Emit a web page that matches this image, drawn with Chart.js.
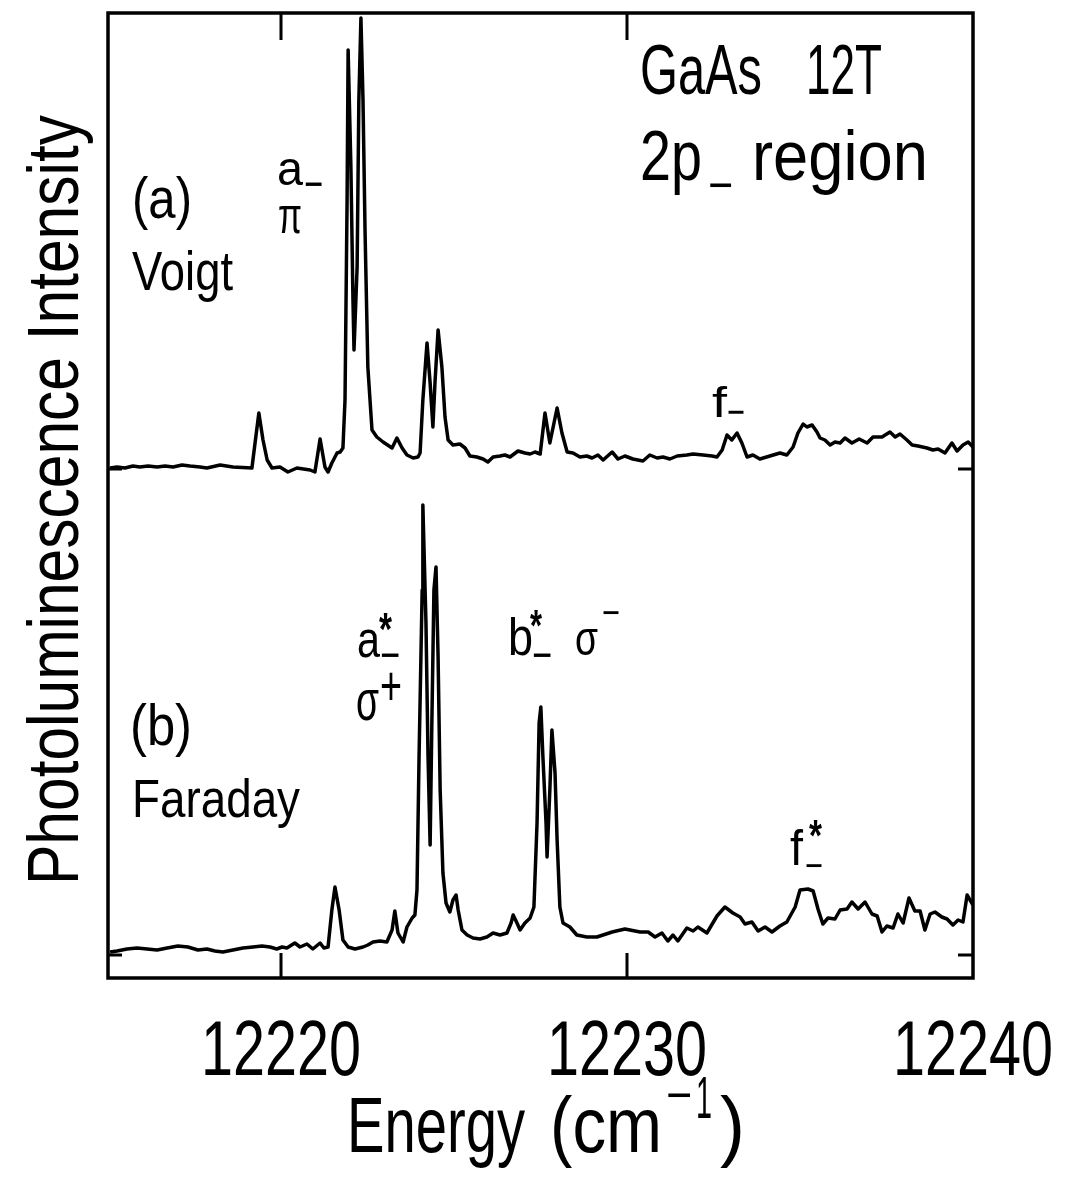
<!DOCTYPE html>
<html>
<head>
<meta charset="utf-8">
<title>GaAs 12T 2p- region</title>
<script src="https://cdn.jsdelivr.net/npm/chart.js@4.4.0/dist/chart.umd.min.js"></script>
<style>
  html,body{margin:0;padding:0;background:#fff;}
  canvas{display:block;}
</style>
</head>
<body>
<canvas id="plChart" width="1071" height="1178"></canvas>
<script>
/* DATA (energy in cm^-1, intensity in arbitrary units) */
const voigtEnergy = [12215.06,12215.26,12215.49,12215.72,12215.92,12216.16,12216.42,12216.65,12216.88,12217.14,
  12217.37,12217.66,12217.86,12218.24,12218.61,12219.16,12219.25,12219.36,12219.48,12219.60,
  12219.74,12219.97,12220.20,12220.46,12220.84,12220.98,12221.13,12221.27,12221.36,12221.47,
  12221.62,12221.71,12221.79,12221.85,12221.91,12221.94,12222.02,12222.08,12222.11,12222.20,
  12222.25,12222.31,12222.37,12222.43,12222.51,12222.63,12222.77,12222.95,12223.21,12223.35,
  12223.50,12223.64,12223.82,12223.96,12224.02,12224.10,12224.22,12224.31,12224.39,12224.45,
  12224.54,12224.65,12224.74,12224.83,12224.97,12225.17,12225.32,12225.46,12225.66,12225.84,
  12225.98,12226.13,12226.33,12226.47,12226.62,12226.85,12227.05,12227.20,12227.34,12227.49,
  12227.63,12227.77,12227.98,12228.12,12228.27,12228.44,12228.64,12228.84,12228.99,12229.16,
  12229.31,12229.57,12229.74,12229.94,12230.17,12230.46,12230.66,12230.87,12231.04,12231.24,
  12231.45,12231.73,12231.91,12232.20,12232.46,12232.60,12232.75,12232.89,12233.03,12233.18,
  12233.32,12233.47,12233.64,12233.84,12234.13,12234.42,12234.62,12234.80,12234.94,12235.09,
  12235.20,12235.35,12235.49,12235.58,12235.72,12235.87,12236.01,12236.16,12236.30,12236.50,
  12236.71,12236.94,12237.11,12237.37,12237.60,12237.75,12237.89,12238.09,12238.24,12238.41,
  12238.67,12238.84,12238.99,12239.19,12239.39,12239.54,12239.71,12239.86,12240.00];
const voigtIntensity = [1,2,1,3,2,3,2,3,2,4,
  3,2,1,4,2,1,26,56,29,9,
  1,2,-3,1,-1,-3,30,2,-3,6,
  16,17,21,69,269,419,302,169,119,202,
  369,451,369,236,102,39,32,27,21,31,
  21,14,11,12,16,69,126,86,42,86,
  139,102,52,29,24,25,21,13,12,10,
  7,12,13,14,12,18,16,15,17,15,
  56,26,61,36,17,16,12,13,11,14,
  9,17,10,13,10,8,14,11,12,10,
  13,14,15,14,13,12,19,34,29,36,
  26,12,14,10,13,16,14,22,36,45,
  42,44,37,31,29,24,27,26,31,26,
  30,26,32,32,37,32,35,29,24,23,
  21,19,20,16,26,18,24,27,22];

const faradayEnergy = [12215.06,12215.26,12215.55,12215.84,12216.13,12216.42,12216.71,12217.02,12217.31,12217.60,
  12217.86,12218.09,12218.32,12218.61,12218.90,12219.19,12219.45,12219.68,12219.88,12220.03,
  12220.17,12220.40,12220.55,12220.75,12220.92,12221.13,12221.24,12221.36,12221.47,12221.56,
  12221.68,12221.79,12221.94,12222.14,12222.37,12222.51,12222.66,12222.86,12223.06,12223.21,
  12223.29,12223.38,12223.53,12223.64,12223.79,12223.87,12223.93,12223.99,12224.08,12224.10,
  12224.19,12224.25,12224.31,12224.36,12224.42,12224.48,12224.54,12224.60,12224.68,12224.77,
  12224.88,12224.97,12225.06,12225.12,12225.23,12225.38,12225.55,12225.75,12225.95,12226.13,
  12226.33,12226.53,12226.65,12226.71,12226.82,12226.91,12227.05,12227.20,12227.31,12227.40,
  12227.46,12227.51,12227.57,12227.66,12227.69,12227.77,12227.83,12227.92,12227.98,12228.06,
  12228.15,12228.35,12228.55,12228.84,12229.13,12229.57,12229.94,12230.38,12230.61,12230.81,
  12231.01,12231.18,12231.33,12231.47,12231.73,12231.91,12232.05,12232.31,12232.60,12232.83,
  12233.06,12233.27,12233.41,12233.61,12233.79,12233.99,12234.19,12234.42,12234.62,12234.86,
  12235.00,12235.23,12235.38,12235.52,12235.66,12235.81,12236.01,12236.16,12236.36,12236.50,
  12236.68,12236.88,12237.08,12237.23,12237.37,12237.51,12237.69,12237.83,12237.98,12238.15,
  12238.32,12238.47,12238.61,12238.76,12238.90,12239.10,12239.25,12239.42,12239.57,12239.71,
  12239.83,12240.00];
const faradayIntensity = [3,4,6,7,6,5,7,9,8,5,
  6,4,3,5,7,8,9,8,6,8,
  7,12,8,11,6,12,7,8,45,68,
  45,15,8,6,8,10,13,14,13,25,
  44,22,13,28,37,40,65,198,365,450,
  332,198,110,232,365,388,298,165,82,52,
  43,55,60,45,25,20,17,16,18,22,
  20,22,32,40,32,25,32,37,48,132,
  232,248,198,132,98,165,225,182,115,48,
  32,28,20,18,18,23,26,23,23,18,
  22,14,20,14,27,24,28,22,39,48,
  42,38,31,33,24,28,23,29,33,48,
  65,66,64,46,31,37,36,45,46,53,
  46,53,41,39,23,29,27,41,32,57,
  44,44,25,41,43,38,36,30,35,33,
  60,50];

const voigtOffset = 486;          // trace (a) is shifted up by this amount
const xTicks = [12220, 12230, 12240];
const yTicks = [0, voigtOffset];   // zero level of each trace
const xMin = 12215, xMax = 12240;
const yMin = -23, yMax = 942;

/* TEXT LAYOUT */
const FONT = "'Liberation Sans', Arial, sans-serif";
const labels = [
  {t:'(a)', x:132, y:218, s:58, w:60},
  {t:'Voigt', x:132, y:290, s:56, w:101},
  {t:'a', x:277, y:185, s:48, w:26},
  {t:'\u2212', x:304, y:187, s:48, w:19, mid:true},
  {t:'\u03c0', x:278, y:233, s:52, w:24},
  {t:'GaAs', x:640, y:94, s:70, w:122},
  {t:'12T', x:806, y:94, s:70, w:76},
  {t:'2p', x:640, y:180, s:70, w:62},
  {t:'\u2212', x:708, y:188, s:50, w:25, mid:true},
  {t:'region', x:752, y:180, s:70, w:176},
  {t:'f', x:712, y:417, s:42, w:15},
  {t:'\u2212', x:727, y:414, s:42, w:18, mid:true},
  {t:'(b)', x:130, y:745, s:58, w:62},
  {t:'Faraday', x:132, y:817, s:54, w:168},
  {t:'a', x:357, y:657, s:52, w:23},
  {t:'*', x:379, y:645, s:46, w:13, bold:true},
  {t:'\u2212', x:380, y:658, s:48, w:20, mid:true},
  {t:'\u03c3', x:356, y:720, s:58, w:23},
  {t:'+', x:380, y:705, s:56, w:22},
  {t:'b', x:508, y:655, s:51, w:25},
  {t:'*', x:530, y:641, s:44, w:12, bold:true},
  {t:'\u2212', x:532, y:658, s:48, w:20, mid:true},
  {t:'\u03c3', x:575, y:655, s:48, w:23},
  {t:'\u2212', x:602, y:615, s:40, w:18, mid:true},
  {t:'f', x:790, y:865, s:50, w:13},
  {t:'*', x:809, y:851, s:44, w:13, bold:true},
  {t:'\u2212', x:805, y:868, s:40, w:18, mid:true},
  {t:'Photoluminescence Intensity', x:78, y:500, s:72, w:770, rot:-Math.PI/2, align:'center'},
  {t:'Energy', x:347, y:1152, s:77, w:178},
  {t:'(cm', x:550, y:1152, s:77, w:112},
  {t:'\u2212', x:666, y:1098, s:50, w:26, mid:true},
  {t:'1', x:696, y:1118, s:60, w:16},
  {t:')', x:720, y:1152, s:77, w:25}
];

function drawText(ctx, it){
  ctx.save();
  ctx.font = (it.bold ? 'bold ' : '') + it.s + 'px ' + FONT;
  ctx.fillStyle = '#000';
  ctx.textBaseline = it.mid ? 'middle' : 'alphabetic';
  ctx.textAlign = it.align || 'left';
  const k = it.w ? it.w / ctx.measureText(it.t).width : 1;
  ctx.translate(it.x, it.y);
  if(it.rot){ ctx.rotate(it.rot); }
  ctx.scale(k, 1);
  ctx.fillText(it.t, 0, 0);
  ctx.restore();
}

/* frame, inward ticks and all text */
const framePlugin = {
  id:'frame',
  afterDraw(chart){
    const {ctx, chartArea:a, scales:{x, y}} = chart;
    ctx.save();
    ctx.strokeStyle = '#000';
    ctx.lineWidth = 3.5;
    ctx.strokeRect(a.left, a.top, a.right - a.left, a.bottom - a.top);
    ctx.lineWidth = 3;
    ctx.beginPath();
    xTicks.forEach(v=>{
      if(v >= xMax) return;
      const px = x.getPixelForValue(v);
      ctx.moveTo(px, a.top); ctx.lineTo(px, a.top + 27);
      ctx.moveTo(px, a.bottom); ctx.lineTo(px, a.bottom - 25);
    });
    yTicks.forEach(v=>{
      const py = y.getPixelForValue(v);
      ctx.moveTo(a.left, py); ctx.lineTo(a.left + 14, py);
      ctx.moveTo(a.right, py); ctx.lineTo(a.right - 15, py);
    });
    ctx.stroke();
    xTicks.forEach(v=>{
      drawText(ctx, {t:String(v), x:x.getPixelForValue(v), y:1075, s:77, w:160, align:'center'});
    });
    labels.forEach(it=>drawText(ctx, it));
    ctx.restore();
  }
};

const ctx = document.getElementById('plChart').getContext('2d');
new Chart(ctx, {
  type:'line',
  data:{
    datasets:[
      {label:'(a) Voigt', data:voigtEnergy.map((e,i)=>({x:e, y:voigtIntensity[i] + voigtOffset})),
       borderColor:'#000', borderWidth:3.5, pointRadius:0, tension:0, fill:false, borderJoinStyle:'round'},
      {label:'(b) Faraday', data:faradayEnergy.map((e,i)=>({x:e, y:faradayIntensity[i]})),
       borderColor:'#000', borderWidth:3.5, pointRadius:0, tension:0, fill:false, borderJoinStyle:'round'}
    ]
  },
  options:{
    responsive:false,
    devicePixelRatio:1,
    animation:false,
    layout:{padding:{left:108, top:13, right:98, bottom:200}},
    plugins:{legend:{display:false}, tooltip:{enabled:false}},
    scales:{
      x:{type:'linear', min:xMin, max:xMax, display:false},
      y:{type:'linear', min:yMin, max:yMax, display:false}
    }
  },
  plugins:[framePlugin]
});
</script>
</body>
</html>
